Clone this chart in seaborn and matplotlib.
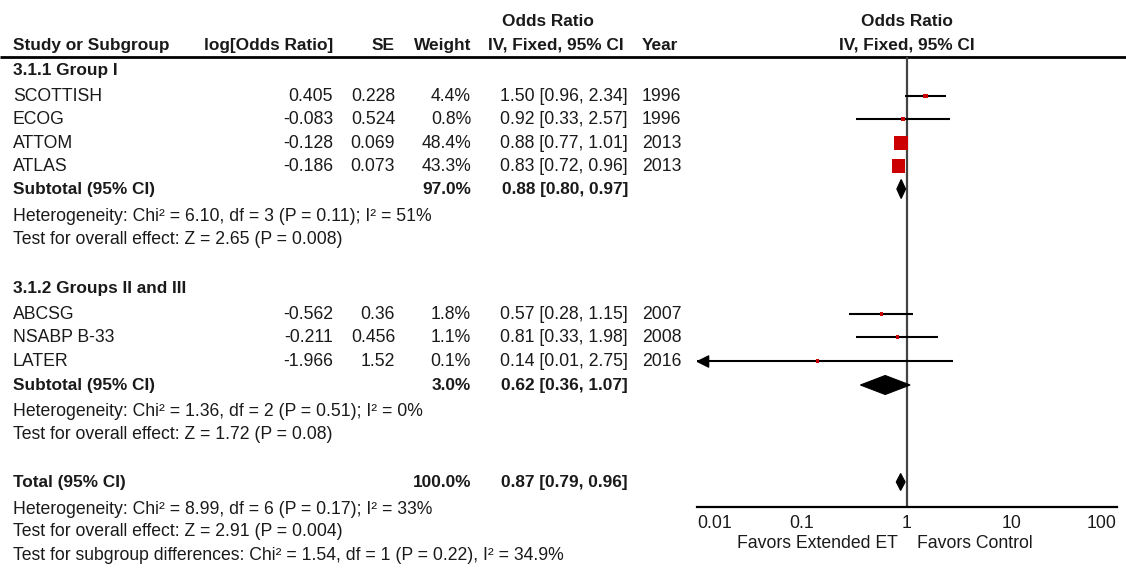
import numpy as np
import pandas as pd
import matplotlib
matplotlib.use("Agg")
import matplotlib.pyplot as plt
import seaborn as sns
from matplotlib.patches import Polygon
from matplotlib.ticker import FixedLocator, FixedFormatter, NullLocator

# ---------------- data ----------------
groups = ["3.1.1 Group I", "3.1.2 Groups II and III"]
studies = ["SCOTTISH", "ECOG", "ATTOM", "ATLAS", "ABCSG", "NSABP B-33", "LATER"]
study_group = [0, 0, 0, 0, 1, 1, 1]
log_or_txt = ["0.405", "-0.083", "-0.128", "-0.186", "-0.562", "-0.211", "-1.966"]
se_txt = ["0.228", "0.524", "0.069", "0.073", "0.36", "0.456", "1.52"]
weights = [4.4, 0.8, 48.4, 43.3, 1.8, 1.1, 0.1]
or_est = [1.50, 0.92, 0.88, 0.83, 0.57, 0.81, 0.14]
ci_lo = [0.96, 0.33, 0.77, 0.72, 0.28, 0.33, 0.01]
ci_hi = [2.34, 2.57, 1.01, 0.96, 1.15, 1.98, 2.75]
years = [1996, 1996, 2013, 2013, 2007, 2008, 2016]

sub_weight = [97.0, 3.0]
sub_est = [0.88, 0.62]
sub_lo = [0.80, 0.36]
sub_hi = [0.97, 1.07]
sub_het = ["Heterogeneity: Chi\u00b2 = 6.10, df = 3 (P = 0.11); I\u00b2 = 51%",
           "Heterogeneity: Chi\u00b2 = 1.36, df = 2 (P = 0.51); I\u00b2 = 0%"]
sub_test = ["Test for overall effect: Z = 2.65 (P = 0.008)",
            "Test for overall effect: Z = 1.72 (P = 0.08)"]

tot_weight = 100.0
tot_est, tot_lo, tot_hi = 0.87, 0.79, 0.96
tot_lines = ["Heterogeneity: Chi\u00b2 = 8.99, df = 6 (P = 0.17); I\u00b2 = 33%",
             "Test for overall effect: Z = 2.91 (P = 0.004)",
             "Test for subgroup differences: Chi\u00b2 = 1.54, df = 1 (P = 0.22), I\u00b2 = 34.9%"]

tick_vals = [0.01, 0.1, 1, 10, 100]
tick_labels = ["0.01", "0.1", "1", "10", "100"]
favors_left = "Favors Extended ET"
favors_right = "Favors Control"

# ---------------- layout (pixel rows) ----------------
W, H = 1126, 569
group_rows = [70, 288]
study_rows = [96, 119, 143, 166, 314, 337, 361]
sub_rows = [189, 385]
het_rows = [(216, 239), (411, 434)]
total_row = 482
total_text_rows = [509, 532, 555]

sns.set_style("white")
plt.rcParams['font.family'] = ['Liberation Sans', 'DejaVu Sans']
FS = 12.7
FSB = 12.4
TXT = "#1a1a1a"
RED = "#cc0000"

fig = plt.figure(figsize=(W / 100, H / 100), dpi=100)
ax_t = fig.add_axes([0, 0, 1, 1])
ax_t.set_xlim(0, W)
ax_t.set_ylim(H, 0)
ax_t.axis("off")

def T(x, y, s, ha="left", bold=False):
    ax_t.text(x, y, s, ha=ha, va="center", fontsize=FSB if bold else FS, color=TXT,
              fontweight="bold" if bold else "normal")

# column x positions
X_NAME, X_LOG, X_SE, X_W, X_CI, X_YR = 13, 333, 395, 471, 628, 642

# headers
T(548, 21, "Odds Ratio", ha="center", bold=True)
T(X_NAME, 45, "Study or Subgroup", bold=True)
T(X_LOG, 45, "log[Odds Ratio]", ha="right", bold=True)
T(X_SE, 45, "SE", ha="right", bold=True)
T(X_W, 45, "Weight", ha="right", bold=True)
T(556, 45, "IV, Fixed, 95% CI", ha="center", bold=True)
T(X_YR, 45, "Year", bold=True)
T(907, 21, "Odds Ratio", ha="center", bold=True)
T(907, 45, "IV, Fixed, 95% CI", ha="center", bold=True)
ax_t.plot([0, W], [57, 57], color="black", lw=2, solid_capstyle="butt")

for g, gname in enumerate(groups):
    T(X_NAME, group_rows[g], gname, bold=True)
    T(X_NAME, sub_rows[g], "Subtotal (95% CI)", bold=True)
    T(X_W, sub_rows[g], f"{sub_weight[g]:.1f}%", ha="right", bold=True)
    T(X_CI, sub_rows[g], f"{sub_est[g]:.2f} [{sub_lo[g]:.2f}, {sub_hi[g]:.2f}]", ha="right", bold=True)
    T(X_NAME, het_rows[g][0], sub_het[g])
    T(X_NAME, het_rows[g][1], sub_test[g])

for i, name in enumerate(studies):
    y = study_rows[i]
    T(X_NAME, y, name)
    T(X_LOG, y, log_or_txt[i], ha="right")
    T(X_SE, y, se_txt[i], ha="right")
    T(X_W, y, f"{weights[i]:.1f}%", ha="right")
    T(X_CI, y, f"{or_est[i]:.2f} [{ci_lo[i]:.2f}, {ci_hi[i]:.2f}]", ha="right")
    T(X_YR, y, str(years[i]))

T(X_NAME, total_row, "Total (95% CI)", bold=True)
T(X_W, total_row, f"{tot_weight:.1f}%", ha="right", bold=True)
T(X_CI, total_row, f"{tot_est:.2f} [{tot_lo:.2f}, {tot_hi:.2f}]", ha="right", bold=True)
for y, s in zip(total_text_rows, tot_lines):
    T(X_NAME, y, s)

# ---------------- forest axes ----------------
ax = fig.add_axes([697 / W, (H - 507) / H, 420 / W, 450 / H])
ax.set_xscale("log")
ax.set_xlim(tick_vals[0], tick_vals[-1])
ax.set_ylim(507, 57)
ax.patch.set_alpha(0)
for sp in ["top", "right", "left"]:
    ax.spines[sp].set_visible(False)
ax.spines["bottom"].set_linewidth(1.6)
ax.spines["bottom"].set_color("black")

ax.axvline(1, color="#444444", lw=1.6, zorder=1)

df = pd.DataFrame({"study": studies, "or": or_est, "lo": ci_lo, "hi": ci_hi,
                   "w": weights, "row": study_rows})
ax.hlines(df["row"], df["lo"], df["hi"], color="black", lw=1.5, zorder=2)

# arrow head (tip at the axis limit) for a CI truncated at the left edge
trunc = df[df["lo"] <= tick_vals[0]]
arrow_marker = [(0, 0), (2.0, 1), (2.0, -1), (0, 0)]
ax.plot(trunc["lo"], trunc["row"], marker=arrow_marker, color="black", markersize=16,
        linestyle="none", clip_on=False, zorder=3)

size_map = {w: (max(2.0 * np.sqrt(w), 3.6) * 0.72) ** 2 for w in weights}
sns.scatterplot(data=df, x="or", y="row", size="w", sizes=size_map, marker="s",
                color=RED, linewidth=0, legend=False, ax=ax, zorder=4, clip_on=False)

def diamond(est, lo, hi, y, half=9.5):
    ax.add_patch(Polygon([(lo, y), (est, y - half), (hi, y), (est, y + half)],
                         closed=True, facecolor="black", edgecolor="black", lw=0.8, zorder=4))

for g in range(2):
    diamond(sub_est[g], sub_lo[g], sub_hi[g], sub_rows[g])
diamond(tot_est, tot_lo, tot_hi, total_row, half=8.5)

ax.xaxis.set_major_locator(FixedLocator(tick_vals))
ax.xaxis.set_major_formatter(FixedFormatter(tick_labels))
ax.xaxis.set_minor_locator(NullLocator())
ax.yaxis.set_major_locator(NullLocator())
ax.tick_params(axis="x", direction="inout", length=12, width=1.6, color="black",
               labelsize=FS, labelcolor=TXT, pad=0)
ax.set_xlabel("")
ax.set_ylabel("")
labs = ax.get_xticklabels()
labs[0].set_ha("left")
labs[-1].set_ha("right")

T(898, 544, favors_left, ha="right")
T(917, 544, favors_right, ha="left")

fig.savefig("out.png", dpi=100)
